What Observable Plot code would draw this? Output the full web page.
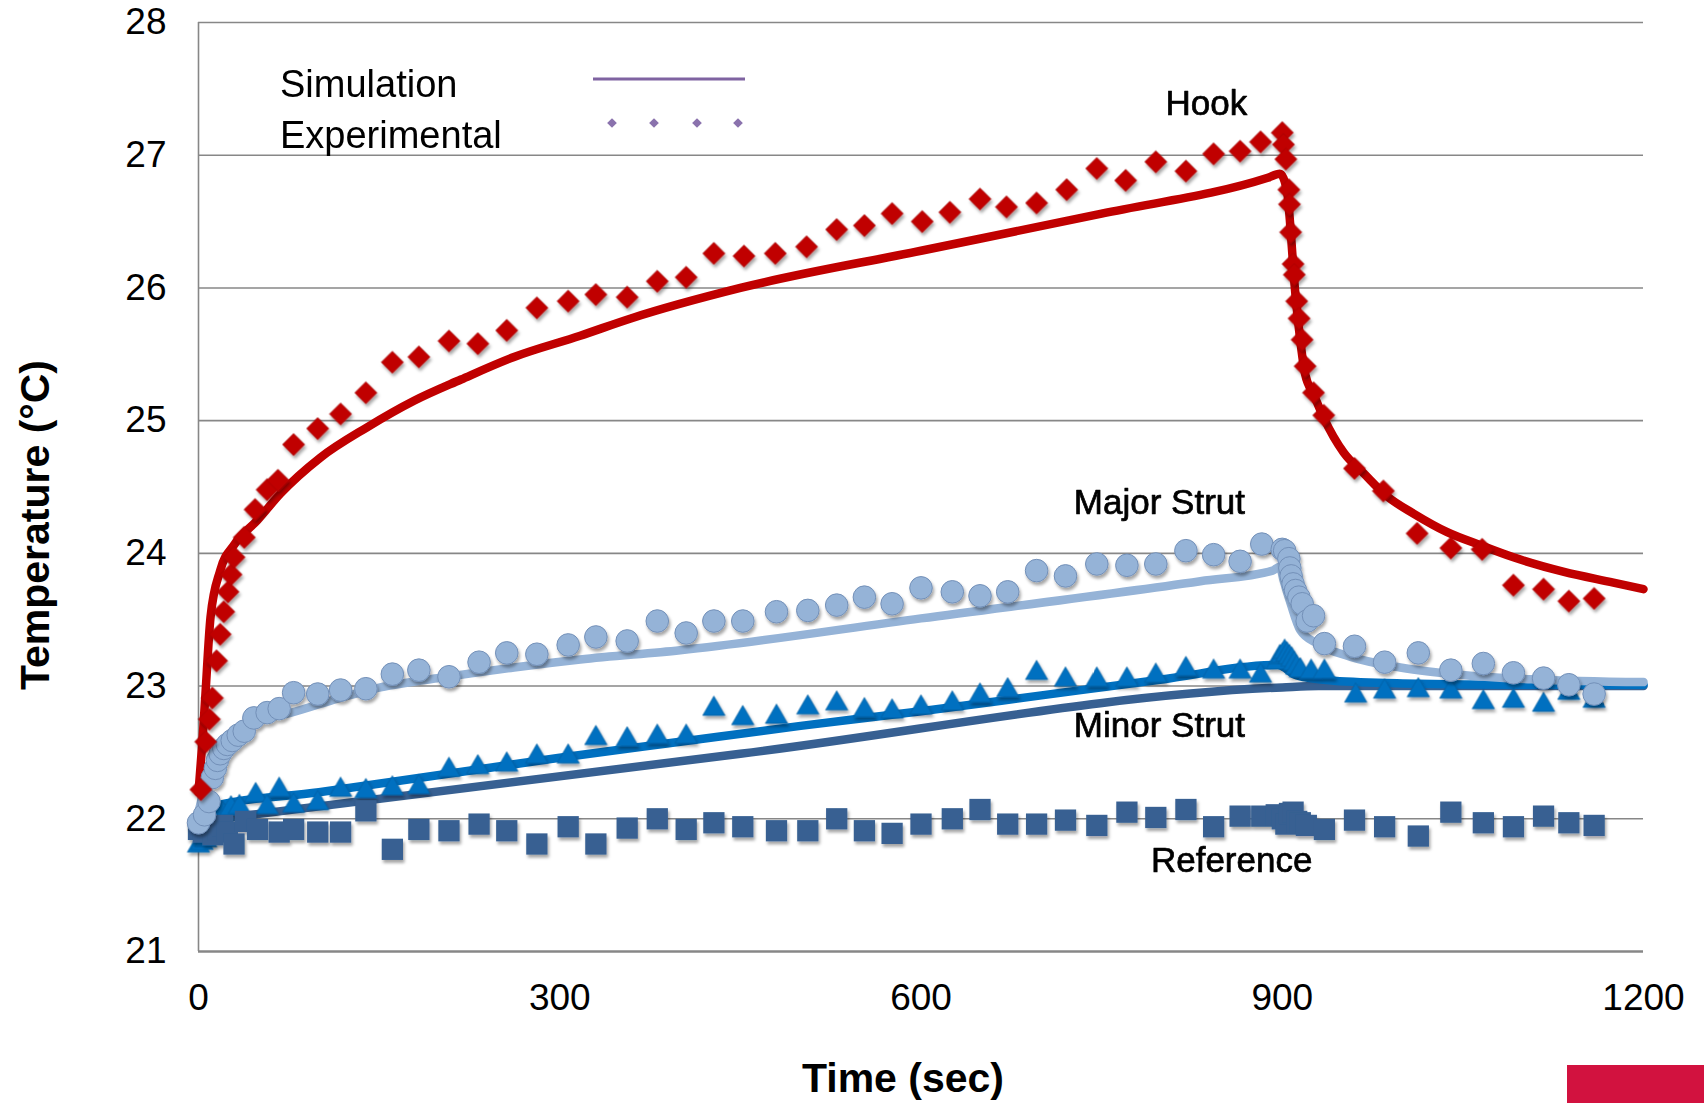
<!DOCTYPE html>
<html>
<head>
<meta charset="utf-8">
<script src="https://cdn.jsdelivr.net/npm/d3@7"></script>
<script src="https://cdn.jsdelivr.net/npm/@observablehq/plot@0.6"></script>
<style>
  html, body { margin: 0; padding: 0; background: #fff; }
  #wrap { position: relative; width: 1704px; height: 1103px; overflow: hidden; font-family: "Liberation Sans", Arial, sans-serif; }
  #legend { position: absolute; left: 0; top: 0; pointer-events: none; }
  #logo { position: absolute; left: 1567px; top: 1065px; width: 137px; height: 38px; background: #d2123f; }
</style>
</head>
<body>
<div id="wrap"></div>
<script>
// ---- Data (time in seconds, temperature in °C) ----
const xTicks = [0, 300, 600, 900, 1200];
const yTicks = [21, 22, 23, 24, 25, 26, 27, 28];

const hookSimT = [0,3,5.5,10,18,30,49,68,101,140,179,218,262,317,359,450,600,750,888,898,904,907,910,914,919,926,934.5,951,968,987,1009,1037,1065,1092,1134,1175,1200];
const hookSimV = [22.2,22.55,22.9,23.52,23.87,24.07,24.25,24.45,24.72,24.95,25.15,25.31,25.48,25.64,25.77,26.0,26.28,26.56,26.83,26.86,26.73,26.43,26.05,25.68,25.35,25.20,25.02,24.76,24.60,24.43,24.30,24.16,24.06,23.97,23.86,23.78,23.73];

const hookExpT = [2,6,9,11.5,15,18,21,24.5,27,29.5,38,47,57,66,79,99,118,139,161,183,208,232,256,281,307,330,356,381,405,428,453,479,505,530,553,576,601,624,649,671,696,721,746,770,795,820,843,865,882,900,901,903,905.5,906,907,909,910,912,914,916.5,919,926,934.5,960,984,1012,1040,1066,1092,1117,1138,1159];
const hookExpV = [22.22,22.58,22.75,22.91,23.19,23.39,23.56,23.71,23.84,23.97,24.12,24.33,24.48,24.55,24.82,24.94,25.05,25.21,25.44,25.48,25.60,25.58,25.68,25.85,25.90,25.95,25.93,26.05,26.08,26.26,26.24,26.26,26.31,26.44,26.47,26.56,26.50,26.57,26.67,26.61,26.64,26.74,26.90,26.81,26.95,26.88,27.01,27.03,27.10,27.17,27.08,26.97,26.74,26.63,26.42,26.18,26.10,25.90,25.77,25.61,25.41,25.21,25.04,24.64,24.47,24.15,24.04,24.03,23.76,23.73,23.64,23.66];

const majorSimT = [0,10,21,40,55,77,110,151,207,262,317,400,600,832,892,898,901,907,915,929,957,998,1054,1109,1200];
const majorSimV = [22.05,22.39,22.57,22.70,22.75,22.80,22.89,22.99,23.07,23.14,23.20,23.27,23.51,23.79,23.87,23.90,23.80,23.62,23.42,23.32,23.22,23.14,23.08,23.05,23.03];

const majorExpT = [0,5,8.7,11.5,14,15.7,18,21,24,28,33,38,46,57,67,79,99,118,139,161,183,208,233,256,281,307,330,356,381,405,428,452,480,506,530,553,576,600,626,649,672,696,720,746,771,795,820,843,865,883,900,902,905.5,906.3,907.4,909,911,913.8,916.6,920.7,926,935,960,985,1013,1040,1067,1092,1117,1138,1159];
const majorExpV = [21.97,22.03,22.13,22.31,22.38,22.44,22.49,22.53,22.56,22.59,22.63,22.66,22.76,22.80,22.83,22.95,22.94,22.97,22.98,23.09,23.12,23.07,23.18,23.25,23.24,23.31,23.37,23.34,23.49,23.40,23.49,23.49,23.56,23.57,23.61,23.67,23.62,23.74,23.71,23.68,23.71,23.87,23.83,23.92,23.91,23.92,24.02,23.99,23.94,24.07,24.03,24.02,23.96,23.89,23.83,23.77,23.72,23.67,23.62,23.49,23.53,23.32,23.30,23.18,23.25,23.12,23.17,23.10,23.06,23.01,22.94];

const minorSimT = [0,15,100,200,300,400,500,600,700,800,896,912,943,1000,1100,1200];
const minorSimV = [21.98,22.1,22.2,22.33,22.46,22.58,22.70,22.81,22.93,23.05,23.16,23.08,23.04,23.02,23.01,23.01];

const minorExpT = [0,3,6,9,12,15,17,20,27,34,47.5,57,67,79,99,118,139,161,183,208,232,256,281,307,330,356,381,405,428,452,480,506,530,553,576,600,626,649,672,696,720,746,771,795,820,843,865,882,896,898,900,902,904,906,908,910,912,915,924,935,961,985,1013,1040,1067,1092,1117,1138,1159];
const minorExpV = [21.82,21.84,21.86,21.9,21.96,22.02,22.05,22.06,22.10,22.11,22.20,22.11,22.24,22.12,22.14,22.24,22.23,22.25,22.26,22.39,22.41,22.43,22.49,22.49,22.63,22.62,22.64,22.64,22.85,22.78,22.79,22.86,22.89,22.84,22.83,22.86,22.89,22.95,22.99,23.12,23.07,23.07,23.07,23.10,23.15,23.13,23.13,23.10,23.20,23.24,23.25,23.28,23.26,23.24,23.22,23.19,23.16,23.14,23.13,23.13,22.95,22.98,22.99,22.98,22.90,22.91,22.88,22.97,22.91];

const refSimT = [0,450,900,930,1200];
const refSimV = [21.98,22.49,22.99,23.0,23.0];

const refExpT = [0,4,8,12,16,20,24,29.5,39,49,67,79,99,118,139,161,183,208,233,256,281,307,330,356,381,405,428,452,480,506,530,553,576,600,626,649,672,696,720,746,771,795,820,843,865,883,895,900,903,906,909,912,915,920,935,960,985,1013,1040,1067,1092,1117,1138,1159];
const refExpV = [21.92,21.90,21.93,21.88,21.92,21.95,21.90,21.81,21.98,21.92,21.90,21.92,21.90,21.90,22.06,21.77,21.92,21.91,21.96,21.91,21.81,21.94,21.81,21.93,22.00,21.92,21.97,21.94,21.91,21.91,22.00,21.91,21.89,21.96,22.00,22.07,21.96,21.96,21.99,21.95,22.05,22.01,22.07,21.94,22.02,22.02,22.03,22.00,21.96,22.04,22.05,21.98,21.97,21.95,21.92,21.99,21.94,21.87,22.05,21.97,21.94,22.02,21.97,21.95];

const labelText = ["Hook", "Major Strut", "Minor Strut", "Reference"];
const labelT = [837, 798, 798, 858];
const labelV = [27.39, 24.38, 22.70, 21.68];

// ---- Build tables ----
const zip = (ts, vs) => ts.map((t, i) => ({t, v: vs[i]}));
const hookSim = zip(hookSimT, hookSimV), hookExp = zip(hookExpT, hookExpV);
const majorSim = zip(majorSimT, majorSimV), majorExp = zip(majorExpT, majorExpV);
const minorSim = zip(minorSimT, minorSimV), minorExp = zip(minorExpT, minorExpV);
const refSim = zip(refSimT, refSimV), refExp = zip(refExpT, refExpV);
const labels = labelText.map((s, i) => ({s, t: labelT[i], v: labelV[i]}));

const C = {hook: "#c00000", major: "#95b3d7", minor: "#0070c0", ref: "#376092", grid: "#878787"};
const FONT = "'Liberation Sans', Arial, Helvetica, sans-serif";

const lineOpts = (color) => ({x: "t", y: "v", stroke: color, strokeWidth: 8.5, curve: "monotone-x", strokeLinejoin: "round", strokeLinecap: "round"});

const chart = Plot.plot({
  width: 1704,
  height: 1103,
  marginLeft: 198,
  marginRight: 61,
  marginTop: 22,
  marginBottom: 152,
  style: `font-family: ${FONT}; font-size: 37px; color: #000; background: #fff; overflow: visible;`,
  x: {domain: [0, 1200], ticks: xTicks, tickSize: 0, tickPadding: 32, tickFormat: d => String(d), label: null},
  y: {domain: [21, 28], ticks: yTicks, tickSize: 0, tickPadding: 32, tickFormat: d => String(d), label: null},
  marks: [
    Plot.ruleY(yTicks.filter(d => d > 21), {stroke: C.grid, strokeWidth: 1.6}),
    Plot.ruleX([0], {stroke: C.grid, strokeWidth: 1.6}),
    Plot.ruleY([21], {stroke: C.grid, strokeWidth: 2.5}),
    Plot.line(refSim, lineOpts(C.ref)),
    Plot.line(minorSim, lineOpts(C.minor)),
    Plot.line(majorSim, lineOpts(C.major)),
    Plot.line(hookSim, lineOpts(C.hook)),
    Plot.dot(minorExp, {x: "t", y: "v", symbol: "triangle", r: 8.3, dy: 3, fill: C.minor, stroke: "#0a5c9c", strokeWidth: 0.6}),
    Plot.dot(refExp, {x: "t", y: "v", symbol: "square", r: 12, fill: C.ref}),
    Plot.dot(majorExp, {x: "t", y: "v", symbol: "circle", r: 11.3, fill: C.major, stroke: "#7390b8", strokeWidth: 1}),
    Plot.dot(hookExp, {x: "t", y: "v", symbol: "diamond2", r: 10, fill: C.hook, stroke: "#a00000", strokeWidth: 0.6}),
    Plot.text(labels, {x: "t", y: "v", text: "s", fontSize: 35, fill: "#000", stroke: "#000", strokeWidth: 0.7, textAnchor: "middle", lineAnchor: "middle"}),
    Plot.text(["Temperature (°C)"], {frameAnchor: "left", textAnchor: "middle", lineAnchor: "middle", rotate: -90, dx: -163, dy: 38, fontSize: 41, fontWeight: "bold", fill: "#000"}),
    Plot.text(["Time (sec)"], {frameAnchor: "bottom", textAnchor: "middle", lineAnchor: "middle", dx: -18, dy: 127, fontSize: 41, fontWeight: "bold", fill: "#000"})
  ]
});

// drop shadow on markers
const svgSel = d3.select(chart);
const defs = svgSel.insert("defs", ":first-child");
const f = defs.append("filter").attr("id", "mshadow").attr("x", "-50%").attr("y", "-50%").attr("width", "200%").attr("height", "200%");
f.append("feDropShadow").attr("dx", 1.5).attr("dy", 3).attr("stdDeviation", 1.8).attr("flood-color", "#000").attr("flood-opacity", 0.35);
svgSel.selectAll('g[aria-label="dot"]').attr("filter", "url(#mshadow)");

const wrap = document.getElementById("wrap");
wrap.appendChild(chart);

// legend overlay
const leg = d3.create("svg").attr("id", "legend").attr("width", 1704).attr("height", 200).style("font-family", FONT);
leg.append("text").attr("x", 280).attr("y", 84).attr("dy", "0.35em").attr("font-size", 38).text("Simulation");
leg.append("text").attr("x", 280).attr("y", 135).attr("dy", "0.35em").attr("font-size", 38).text("Experimental");
leg.append("line").attr("x1", 593).attr("x2", 745).attr("y1", 79).attr("y2", 79).attr("stroke", "#7f63a1").attr("stroke-width", 3);
[612, 654, 697, 738].forEach(x => {
  leg.append("path").attr("d", d3.symbol(d3.symbolDiamond2, 60)()).attr("transform", `translate(${x},123)`).attr("fill", "#8a72ad");
});
wrap.appendChild(leg.node());

const logo = document.createElement("div");
logo.id = "logo";
wrap.appendChild(logo);
</script>
</body>
</html>
